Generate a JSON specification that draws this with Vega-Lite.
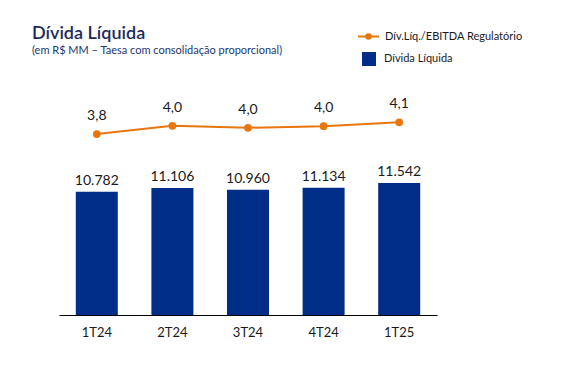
{
  "$schema": "https://vega.github.io/schema/vega-lite/v6.json",
  "width": 378,
  "height": 235,
  "autosize": "none",
  "padding": {"left": 59, "top": 80, "right": 130, "bottom": 63},
  "background": "white",
  "config": {
    "view": {"stroke": null},
    "font": "Lato",
    "locale": {"number": {"decimal": ",", "thousands": ".", "grouping": [3], "currency": ["R$", ""]}}
  },
  "title": {
    "text": "Dívida Líquida",
    "subtitle": "(em R$ MM – Taesa com consolidação proporcional)",
    "anchor": "start",
    "frame": "group",
    "dx": -27,
    "dy": 59,
    "offset": 28,
    "font": "Lato",
    "fontSize": 18,
    "fontWeight": 600,
    "color": "#1F2A5C",
    "subtitleFont": "Lato",
    "subtitleFontSize": 11,
    "subtitleColor": "#23366E",
    "subtitlePadding": 2
  },
  "data": {
    "values": [
      {"periodo": "1T24", "divida": 10782, "alav": 3.8},
      {"periodo": "2T24", "divida": 11106, "alav": 4.01},
      {"periodo": "3T24", "divida": 10960, "alav": 3.96},
      {"periodo": "4T24", "divida": 11134, "alav": 4.0},
      {"periodo": "1T25", "divida": 11542, "alav": 4.1}
    ]
  },
  "encoding": {
    "x": {
      "field": "periodo",
      "type": "ordinal",
      "sort": null,
      "scale": {"paddingInner": 0.44, "paddingOuter": 0.22},
      "axis": {
        "title": null,
        "labelAngle": 0,
        "ticks": false,
        "domainColor": "#000000",
        "domainWidth": 1,
        "labelFont": "Lato",
        "labelFontSize": 13,
        "labelColor": "#1A1A1A",
        "labelPadding": 11
      }
    }
  },
  "layer": [
    {
      "encoding": {
        "y": {"field": "divida", "type": "quantitative", "scale": {"domain": [0, 20550]}, "axis": null}
      },
      "layer": [
        {
          "mark": {"type": "bar", "width": 42},
          "encoding": {
            "fill": {
              "datum": "Dívida Líquida",
              "scale": {"range": ["#002D87"]},
              "legend": {
                "title": null,
                "orient": "none",
                "legendX": 303,
                "legendY": -28,
                "symbolType": "square",
                "symbolSize": 196,
                "symbolStrokeWidth": 0,
                "labelFont": "Lato",
                "labelFontSize": 11,
                "labelColor": "#1A1A1A",
                "labelOffset": 8
              }
            }
          }
        },
        {
          "mark": {"type": "text", "baseline": "alphabetic", "dy": -7, "fontSize": 14, "color": "#1A1A1A", "font": "Lato"},
          "encoding": {"text": {"field": "divida", "type": "quantitative", "format": ",.0f"}}
        }
      ]
    },
    {
      "encoding": {
        "y": {"field": "alav", "type": "quantitative", "scale": {"domain": [-0.841, 5.185]}, "axis": null}
      },
      "layer": [
        {
          "mark": {"type": "line", "strokeWidth": 2},
          "encoding": {
            "stroke": {
              "datum": "Dív.Líq./EBITDA Regulatório",
              "scale": {"range": ["#E8760F"]},
              "legend": {
                "title": null,
                "orient": "none",
                "legendX": 298,
                "legendY": -55,
                "symbolType": "M-1,0L1,0M0,-0.22A0.22,0.22 0 1 1 0,0.22A0.22,0.22 0 1 1 0,-0.22Z",
                "symbolSize": 441,
                "symbolStrokeWidth": 2,
                "labelFont": "Lato",
                "labelFontSize": 11,
                "labelColor": "#1A1A1A",
                "labelOffset": 5,
                "symbolFillColor": "#E8760F"
              }
            }
          }
        },
        {
          "mark": {"type": "point", "filled": true, "size": 60, "color": "#E8760F", "opacity": 1}
        },
        {
          "mark": {"type": "text", "baseline": "alphabetic", "dy": -14, "fontSize": 14, "color": "#1A1A1A", "font": "Lato"},
          "encoding": {"text": {"field": "alav", "type": "quantitative", "format": ".1f"}}
        }
      ]
    }
  ],
  "resolve": {"scale": {"y": "independent"}}
}
